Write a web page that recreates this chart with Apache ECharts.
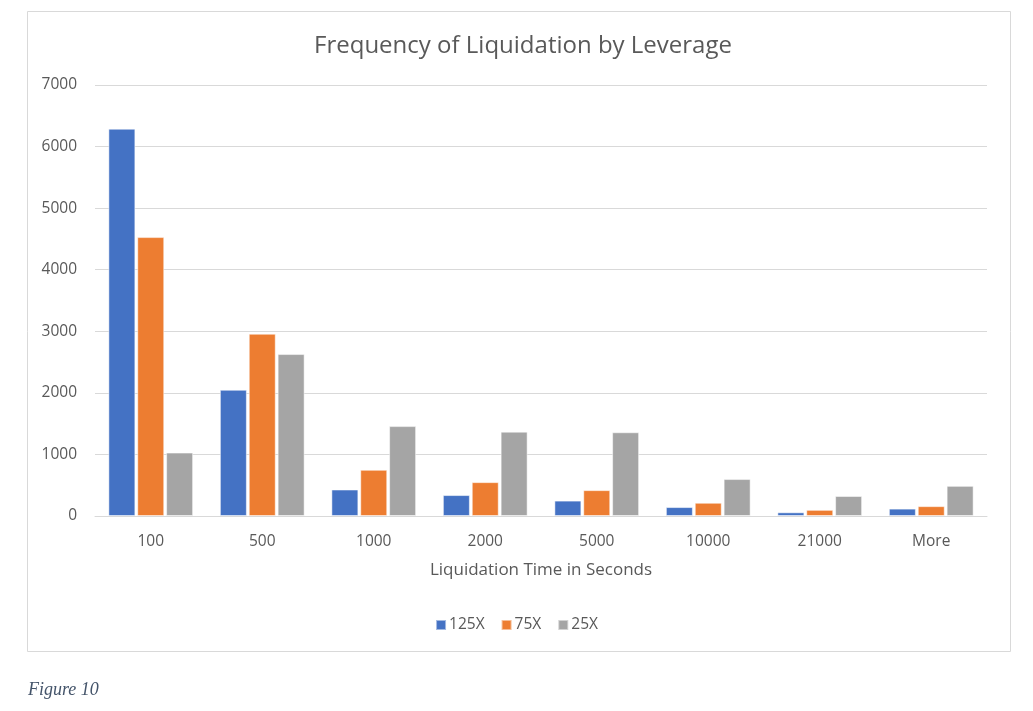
<!DOCTYPE html>
<html>
<head>
<meta charset="utf-8">
<script src="https://cdn.jsdelivr.net/npm/echarts@6/dist/echarts.min.js"></script>
<style>
html,body{margin:0;padding:0;background:#fff;}
#chart{width:1033px;height:711px;}
</style>
</head>
<body>
<div id="chart"></div>
<script>
const categories = ['100', '500', '1000', '2000', '5000', '10000', '21000', 'More'];
const seriesNames = ['125X', '75X', '25X'];
const values125X = [6290, 2050, 430, 340, 250, 145, 60, 120];
const values75X = [4530, 2960, 750, 550, 420, 215, 100, 160];
const values25X = [1030, 2630, 1460, 1370, 1360, 600, 325, 490];
const colors = ['#4472C4', '#ED7D31', '#A5A5A5'];

const chart = echarts.init(document.getElementById('chart'));
const allValues = [values125X, values75X, values25X];
const textColor = '#595959';
const font = 'Open Sans, Noto Sans, sans-serif';

chart.setOption({
  animation: false,
  backgroundColor: '#fff',
  title: {
    text: 'Frequency of Liquidation by Leverage',
    left: 518, top: 29, textAlign: 'center',
    textStyle: { color: textColor, fontSize: 24, fontWeight: 'normal', fontFamily: font }
  },
  legend: {
    data: seriesNames,
    left: 'center', top: 612,
    itemWidth: 10, itemHeight: 10, itemGap: 16,
    icon: 'rect',
    textStyle: { color: textColor, fontSize: 15.5, fontFamily: font, padding: [0, 0, 0, -2] }
  },
  grid: { left: 95, right: 46, top: 85, bottom: 195, containLabel: false },
  xAxis: {
    type: 'category',
    data: categories,
    name: 'Liquidation Time in Seconds',
    nameLocation: 'middle',
    nameGap: 46,
    nameTextStyle: { color: textColor, fontSize: 17, fontFamily: font },
    axisLine: { lineStyle: { color: '#D9D9D9', width: 1 } },
    axisTick: { show: false },
    axisLabel: { color: textColor, fontSize: 15.5, fontFamily: font, margin: 18 }
  },
  yAxis: {
    type: 'value',
    min: 0, max: 7000, interval: 1000,
    axisLine: { show: false },
    axisTick: { show: false },
    axisLabel: { color: textColor, fontSize: 15.5, fontFamily: font, margin: 18,
      formatter: v => String(v) },
    splitLine: { lineStyle: { color: '#D9D9D9', width: 1 } }
  },
  series: seriesNames.map((n, i) => ({
    name: n,
    type: 'bar',
    data: allValues[i],
    barGap: '7%',
    barCategoryGap: '24%',
    itemStyle: { color: colors[i], borderColor: 'rgba(255,255,255,0.5)', borderWidth: 1 }
  })),
  graphic: [
    { type: 'rect', shape: { x: 27.5, y: 11.5, width: 983, height: 640 },
      style: { fill: 'none', stroke: '#D9D9D9', lineWidth: 1 }, z: -1 },
    { type: 'text', left: 28, top: 681,
      style: { text: 'Figure 10', fill: '#44546A', font: 'italic 18px "Liberation Serif", "DejaVu Serif", serif' } }
  ]
});
</script>
</body>
</html>
